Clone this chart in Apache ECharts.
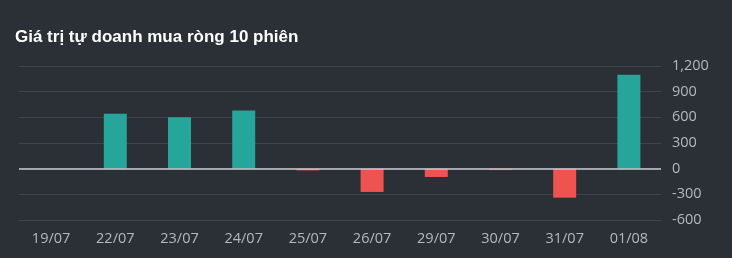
<!DOCTYPE html>
<html><head><meta charset="utf-8">
<script src="https://cdn.jsdelivr.net/npm/echarts@6/dist/echarts.min.js"></script>
<style>html,body{margin:0;padding:0;background:#2b2f36;}#c{width:732px;height:258px;}</style>
</head><body><div id="c"></div>
<script>
var categories = ["19/07","22/07","23/07","24/07","25/07","26/07","29/07","30/07","31/07","01/08"];
var values = [0, 642, 600, 681, -20, -272, -97, -15, -339, 1098];
var title = "Giá trị tự doanh mua ròng 10 phiên";

var chart = echarts.init(document.getElementById('c'));
chart.setOption({
  backgroundColor: '#2b2f36',
  animation: false,
  title: { text: title, left: 10, top: 24, textStyle: { color: '#ffffff', fontSize: 17, fontWeight: 'bold', fontFamily: 'Liberation Sans, Arial, sans-serif' } },
  grid: { left: 19, right: 71, top: 66, bottom: 38 },
  xAxis: {
    type: 'category', data: categories,
    axisLine: { show: false }, axisTick: { show: false },
    axisLabel: { color: '#b5b8bd', fontSize: 14.5, margin: 11, fontFamily: 'Open Sans, sans-serif' }
  },
  yAxis: {
    type: 'value', position: 'right', min: -600, max: 1200, interval: 300,
    axisLine: { show: false }, axisTick: { show: false },
    axisLabel: { color: '#b5b8bd', fontSize: 14.5, margin: 11, fontFamily: 'Open Sans, sans-serif',
      formatter: function(v){ return v.toLocaleString('en-US'); } },
    splitLine: { lineStyle: { color: '#40444c', width: 1 } }
  },
  series: [{
    type: 'bar', data: values.map(function(v){ return { value: v, itemStyle: { color: v >= 0 ? '#26a69a' : '#ef5350' } }; }),
    barWidth: 23,
    markLine: { silent: true, symbol: 'none', label: { show: false }, lineStyle: { color: '#c8cacf', type: 'solid', width: 1.5 }, data: [{ yAxis: 0 }] }
  }]
});
</script></body></html>
